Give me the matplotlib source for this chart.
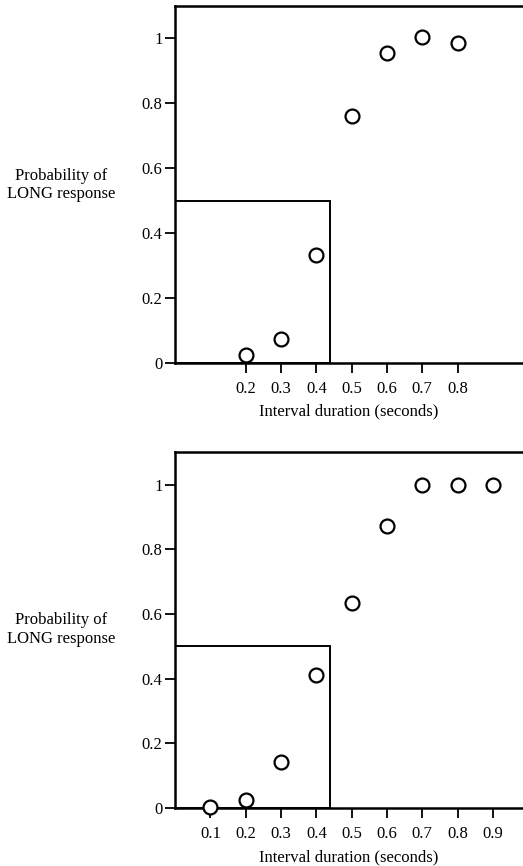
import numpy as np
import matplotlib
matplotlib.use("Agg")
import matplotlib.pyplot as plt
from matplotlib.patches import Rectangle

# top panel data
top_x = [0.2, 0.3, 0.4, 0.5, 0.6, 0.7, 0.8]
top_p = [0.023, 0.073, 0.333, 0.762, 0.956, 1.005, 0.987]
top_ticks = [0.2, 0.3, 0.4, 0.5, 0.6, 0.7, 0.8]

# bottom panel data
bot_x = [0.1, 0.2, 0.3, 0.4, 0.5, 0.6, 0.7, 0.8, 0.9]
bot_p = [0.002, 0.024, 0.141, 0.41, 0.634, 0.873, 1.0, 1.0, 1.0]
bot_ticks = [0.1, 0.2, 0.3, 0.4, 0.5, 0.6, 0.7, 0.8, 0.9]

y_ticks = [0, 0.2, 0.4, 0.6, 0.8, 1]
y_ticklabels = ["0", "0.2", "0.4", "0.6", "0.8", "1"]

box_w = 0.44   # criterion box
box_h = 0.5

plt.rcParams["font.family"] = ["Liberation Serif", "DejaVu Serif"]
plt.rcParams["font.size"] = 12

fig = plt.figure(figsize=(5.23, 8.66), dpi=100)


def panel(rect, xs, ps, xticks, label_y):
    ax = fig.add_axes(rect)
    ax.plot(xs, ps, "o", mfc="white", mec="black", ms=10, mew=1.6, clip_on=False, zorder=3)
    ax.add_patch(Rectangle((0, 0), box_w, box_h, fill=False, ec="black", lw=1.4))
    ax.set_xlim(0, 0.985)
    ax.set_ylim(0, 1.1)
    ax.spines["right"].set_visible(False)
    for s in ["left", "top", "bottom"]:
        ax.spines[s].set_linewidth(1.8)
    ax.set_yticks(y_ticks)
    ax.set_yticklabels(y_ticklabels)
    ax.set_xticks(xticks)
    ax.set_xticklabels(["%.1f" % t for t in xticks])
    ax.tick_params(axis="y", direction="out", length=7, width=1.3, pad=2)
    ax.tick_params(axis="x", direction="out", length=7, width=1.3, pad=6)
    ax.set_xlabel("Interval duration (seconds)", labelpad=5)
    fig.text(0.117, label_y, "Probability of\nLONG response", ha="center", va="center",
             linespacing=1.2, fontsize=12)
    return ax


panel([0.3346, 0.5812, 0.6654, 0.4119], top_x, top_p, top_ticks, 0.7864)
panel([0.3346, 0.0670, 0.6654, 0.4107], bot_x, bot_p, bot_ticks, 0.2729)

fig.savefig("out.png", dpi=100)
